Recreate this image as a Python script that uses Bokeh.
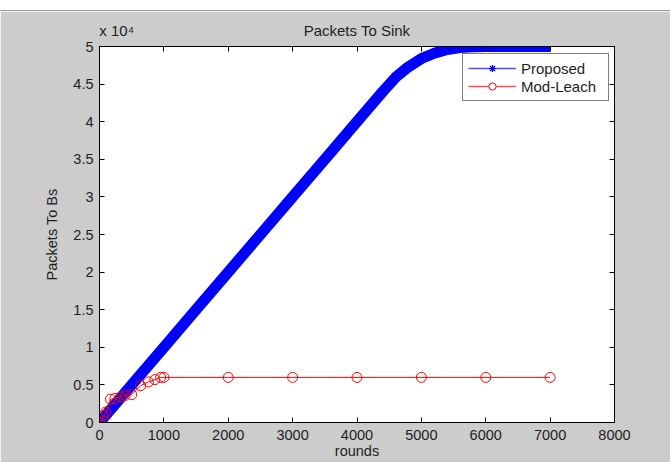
from bokeh.plotting import figure
from bokeh.models import (LinearAxis, FixedTicker, Range1d, Legend,
                          LegendItem, ColumnDataSource, Div)
from bokeh.layouts import column
from bokeh.embed import file_html
from bokeh.resources import INLINE

# ---------------- data ----------------
rounds_proposed = [0, 500, 1000, 1500, 2000, 2500, 3000, 3500, 4000, 4200,
                   4400, 4600, 4800, 5000, 5200, 5400, 5600, 5800, 6000,
                   6500, 7000]
packets_proposed = [0, 5000, 10000, 15000, 20000, 25000, 30000, 35000, 40000,
                    42000, 44000, 45900, 47300, 48400, 49100, 49600, 49850,
                    49950, 50000, 50000, 50000]

rounds_leach = [0, 60, 100, 170, 240, 330, 400, 500, 640, 760, 860, 950,
                1000, 2000, 3000, 4000, 5000, 6000, 7000]
packets_leach = [0, 900, 1400, 3100, 3200, 3400, 3600, 3700, 4900, 5400,
                 5700, 6000, 6000, 6000, 6000, 6000, 6000, 6000, 6000]

x_ticks = [0, 1000, 2000, 3000, 4000, 5000, 6000, 7000, 8000]
x_tick_labels = ["0", "1000", "2000", "3000", "4000", "5000", "6000", "7000", "8000"]
y_ticks = [0, 5000, 10000, 15000, 20000, 25000, 30000, 35000, 40000, 45000, 50000]
y_tick_labels = ["0", "0.5", "1", "1.5", "2", "2.5", "3", "3.5", "4", "4.5", "5"]

title_text = "Packets To Sink"
exponent_text = "x 10\u2074"
x_label_text = "rounds"
y_label_text = "Packets To Bs"
series_names = ["Proposed", "Mod-Leach"]

# ---------------- layout / styling constants ----------------
FONT = "Liberation Sans"
GRAY = "#cccccc"
TXT = "#1e1e1e"
X_MIN, X_MAX = 0, 8000
Y_MIN, Y_MAX = 0, 50000
EXP_POS = X_MIN + 267          # where the "x 10^4" multiplier sits
TITLE_POS = (X_MIN + X_MAX) / 2

p = figure(width=670, height=451, output_backend="svg", toolbar_location=None,
           x_range=Range1d(X_MIN, X_MAX), y_range=Range1d(Y_MIN, Y_MAX),
           x_axis_type=None, y_axis_type=None,
           min_border_left=99, min_border_right=56,
           min_border_top=35, min_border_bottom=40)
p.border_fill_color = GRAY
p.background_fill_color = "white"
p.outline_line_color = "black"
p.outline_line_width = 1
p.xgrid.visible = False
p.ygrid.visible = False


def base_axis(ticker):
    ax = LinearAxis(ticker=ticker)
    ax.axis_line_color = "black"
    ax.major_tick_line_color = "black"
    ax.minor_tick_line_color = "black"
    ax.major_tick_in = 5
    ax.major_tick_out = 0
    ax.minor_tick_in = 0
    ax.minor_tick_out = 0
    ax.major_label_text_font = FONT
    ax.major_label_text_font_size = "14.5px"
    ax.major_label_text_color = TXT
    ax.axis_label_text_font = FONT
    ax.axis_label_text_font_size = "14.5px"
    ax.axis_label_text_font_style = "normal"
    ax.axis_label_text_color = TXT
    return ax


# bottom axis
bx = base_axis(FixedTicker(ticks=x_ticks, minor_ticks=[]))
bx.major_label_overrides = dict(zip(x_ticks, x_tick_labels))
bx.major_label_standoff = 7
bx.axis_label = x_label_text
bx.axis_label_standoff = 0
p.add_layout(bx, "below")

# left axis
ly = base_axis(FixedTicker(ticks=y_ticks, minor_ticks=[]))
ly.major_label_overrides = dict(zip(y_ticks, y_tick_labels))
ly.major_label_standoff = 6
ly.axis_label = y_label_text
ly.axis_label_standoff = 10
p.add_layout(ly, "left")

# top axis: tick marks (as minor ticks) + multiplier and title as labels
tx = base_axis(FixedTicker(ticks=[EXP_POS, TITLE_POS], minor_ticks=x_ticks))
tx.major_tick_in = 0
tx.minor_tick_in = 5
tx.major_label_overrides = {EXP_POS: exponent_text, TITLE_POS: title_text}
tx.major_label_text_font_size = "15px"
tx.major_label_standoff = 8
p.add_layout(tx, "above")

# right axis: tick marks only
ry = base_axis(FixedTicker(ticks=[], minor_ticks=y_ticks))
ry.major_tick_in = 0
ry.minor_tick_in = 5
p.add_layout(ry, "right")

# ---------------- series ----------------
src_p = ColumnDataSource(dict(x=rounds_proposed, y=packets_proposed))
src_l = ColumnDataSource(dict(x=rounds_leach, y=packets_leach))

p.line("x", "y", source=src_p, line_color="#0000ff", line_width=11)
p.line("x", "y", source=src_l, line_color="#ff0000", line_width=1)
p.scatter("x", "y", source=src_l, marker="circle", size=10,
          line_color="#ff0000", line_width=1, fill_color=None)

# legend proxies (no visible data)
nan_src = ColumnDataSource(dict(x=[float("nan")], y=[float("nan")]))
lp = p.line("x", "y", source=nan_src, line_color="#4d4dff", line_width=1.5)
mp = p.scatter("x", "y", source=nan_src, marker="asterisk", size=9,
               line_color="#0000ff", line_width=1.2)
ll = p.line("x", "y", source=nan_src, line_color="#ff5050", line_width=1.5)
ml = p.scatter("x", "y", source=nan_src, marker="circle", size=9,
               line_color="#ff0000", line_width=1, fill_color="white")

legend = Legend(items=[LegendItem(label=series_names[0], renderers=[lp, mp]),
                       LegendItem(label=series_names[1], renderers=[ll, ml])],
                location=(363, 321))
legend.border_line_color = "black"
legend.border_line_width = 1
legend.background_fill_color = "white"
legend.background_fill_alpha = 1
legend.label_text_font = FONT
legend.label_text_font_size = "15px"
legend.label_text_color = TXT
legend.padding = 5
legend.spacing = 0
legend.margin = 0
legend.label_height = 18
legend.glyph_height = 18
legend.glyph_width = 48
legend.label_standoff = 5
legend.label_width = 82
p.add_layout(legend, "center")

top_strip = Div(text="", width=670, height=11, margin=0,
                styles={"background-color": "white",
                        "border-bottom": "1px solid #9a9a9a"})

layout = column(top_strip, p, spacing=0)
open("out.html", "w").write(file_html(layout, INLINE))
